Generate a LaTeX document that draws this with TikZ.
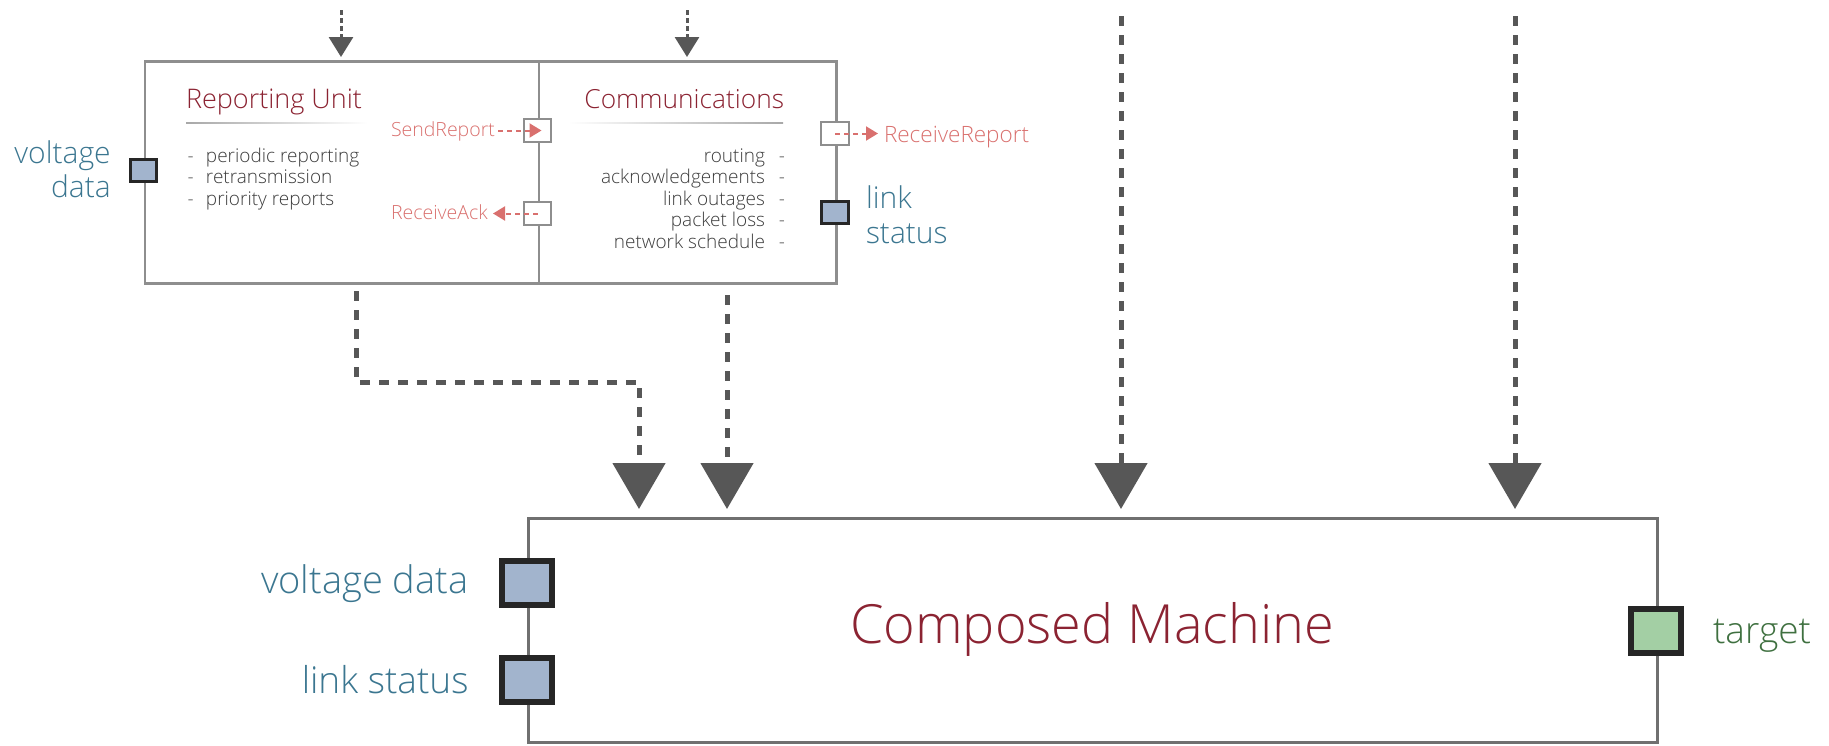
\documentclass[tikz,border=0pt]{standalone}
\usepackage{fontspec}
\setmainfont{Open Sans Light}
\usetikzlibrary{arrows.meta}
\definecolor{titlered}{HTML}{8B2332}
\definecolor{tealtxt}{HTML}{3B7690}
\definecolor{salmon}{HTML}{D9706E}
\definecolor{greentxt}{HTML}{3F7040}
\definecolor{itemgray}{HTML}{3C3C3C}
\definecolor{boxgray}{HTML}{8E8E8E}
\definecolor{cmgray}{HTML}{707070}
\definecolor{arrgray}{HTML}{575757}
\definecolor{portborder}{HTML}{262626}
\definecolor{portblue}{HTML}{A2B4CD}
\definecolor{portgreen}{HTML}{A3CFA4}
\definecolor{ulgray}{HTML}{A8A8A8}
\begin{document}
\begin{tikzpicture}[x=1pt,y=-1pt,
  ubox/.style={draw=boxgray, line width=2.5pt, anchor=north west, inner sep=0pt},
  cmbox/.style={draw=cmgray, line width=3pt, anchor=north west, inner sep=0pt},
  txt/.style={inner sep=0pt, outer sep=0pt},
  titletxt/.style={txt, text=titlered, font=\fontsize{27}{32}\selectfont},
  itemtxt/.style={txt, text=itemgray, font=\fontsize{19}{22}\selectfont},
  redtxt/.style={txt, text=salmon, font=\fontsize{19.5}{23}\selectfont},
  portlbl/.style={txt, text=tealtxt, font=\fontsize{30}{34}\selectfont},
  bigportlbl/.style={txt, text=tealtxt, font=\fontsize{38}{44}\selectfont},
  sport/.style={draw=portborder, fill=portblue, line width=3pt, minimum width=26.5pt, minimum height=22pt, inner sep=0pt},
  wport/.style={draw=boxgray, fill=white, line width=2pt, minimum width=27.5pt, minimum height=23pt, inner sep=0pt},
  bport/.style={draw=portborder, fill=portblue, line width=6pt, minimum width=50pt, minimum height=44pt, inner sep=0pt},
  gport/.style={bport, fill=portgreen},
  redarr/.style={draw=salmon, line width=2pt, dash pattern=on 5pt off 4pt, -{Triangle[width=14pt,length=12pt]}},
  smallarr/.style={draw=arrgray, line width=3pt, dash pattern=on 5pt off 3pt, -{Triangle[width=24pt,length=20pt]}},
  bigarr/.style={draw=arrgray, line width=5pt, dash pattern=on 10pt off 9pt, -{Triangle[width=52pt,length=46pt]}}
]
\useasboundingbox (0,0) rectangle (1829,745);

% top boxes
\node[ubox, minimum width=394pt, minimum height=222pt] (ru) at (143.6,60) {};
\node[ubox, minimum width=297.5pt, minimum height=222pt] (cu) at (537.5,60) {};

% titles and underlines
\node[titletxt, anchor=base west] (rut) at (186,108) {Reporting Unit};
\node[titletxt, anchor=base east, font=\fontsize{26.3}{31}\selectfont] (cut) at (784,108) {Communications};
\shade[left color=ulgray, right color=white] (186,122.3) rectangle (368,123.8);
\shade[left color=white, right color=ulgray] (568,122.3) rectangle (783,123.8);

% reporting unit list
\node[itemtxt, anchor=base west] (r1) at (187.5,162) {\makebox[18.5pt][l]{-}periodic reporting};
\node[itemtxt, anchor=base west] (r2) at (187.5,183.5) {\makebox[18.5pt][l]{-}retransmission};
\node[itemtxt, anchor=base west] (r3) at (187.5,205) {\makebox[18.5pt][l]{-}priority reports};

% communications list
\node[itemtxt, anchor=base east] (c1) at (785,162) {routing\makebox[20pt][r]{-}};
\node[itemtxt, anchor=base east] (c2) at (785,183.5) {acknowledgements\makebox[20pt][r]{-}};
\node[itemtxt, anchor=base east] (c3) at (785,205) {link outages\makebox[20pt][r]{-}};
\node[itemtxt, anchor=base east] (c4) at (785,226.5) {packet loss\makebox[20pt][r]{-}};
\node[itemtxt, anchor=base east] (c5) at (785,248) {network schedule\makebox[20pt][r]{-}};

% small ports
\node[sport] (vdp) at (143.6,170.5) {};
\node[wport] (sp) at (537.5,130.5) {};
\node[wport] (rap) at (537.5,213.5) {};
\node[wport] (rrp) at (835,133.5) {};
\node[sport] (lsp) at (835,212.5) {};

% red labels and arrows
\node[redtxt, anchor=base west] (sl) at (391,136) {SendReport};
\node[redtxt, anchor=base west] (ral) at (391,219) {ReceiveAck};
\node[redtxt, anchor=base west, font=\fontsize{22.5}{26}\selectfont] (rrl) at (884,142) {ReceiveReport};
\draw[redarr] ([xshift=-39.5pt]sp.center) -- ([xshift=4pt]sp.center);
\draw[redarr] (rap.center) -- ([xshift=-44.5pt]rap.center);
\draw[redarr] (rrp.center) -- ([xshift=43pt]rrp.center);

% teal port labels (top)
\node[portlbl, anchor=base east] (vd1) at (110.7,163) {voltage};
\node[portlbl, anchor=base east] (vd2) at (110.7,197) {data};
\node[portlbl, anchor=base west] (ls1) at (866,208) {link};
\node[portlbl, anchor=base west] (ls2) at (866,243) {status};

% small incoming arrows
\coordinate (t1s) at (341,10);
\coordinate (t2s) at (687,10);
\draw[smallarr] (t1s) -- ([yshift=3pt]t1s |- ru.north);
\draw[smallarr] (t2s) -- ([yshift=3pt]t2s |- cu.north);

% composed machine
\node[cmbox, minimum width=1129pt, minimum height=224pt] (cm) at (527,517) {};
\node[txt, anchor=base, text=titlered, font=\fontsize{54}{60}\selectfont] (cmt) at (1092,643) {Composed Machine};
\node[bport] (bvd) at (527,583) {};
\node[bport] (bls) at (527,680) {};
\node[gport] (tg) at (1656,631) {};
\node[bigportlbl, anchor=base east] (bvdl) at (468.5,593) {voltage data};
\node[bigportlbl, anchor=base east, font=\fontsize{37}{42}\selectfont] (blsl) at (468.5,693) {link status};
\node[txt, anchor=base west, text=greentxt, font=\fontsize{37}{42}\selectfont] (tgl) at (1713,643) {target};

% big arrows
\coordinate (a1s) at (356,291);
\coordinate (a1m) at (639,382);
\coordinate (a1t) at (639,509);
\coordinate (a2s) at (727,295);
\coordinate (a2t) at (727,509);
\coordinate (a3s) at (1121,16);
\coordinate (a3t) at (1121,509);
\coordinate (a4s) at (1515,16);
\coordinate (a4t) at (1515,509);
\draw[bigarr] (a1s) |- (a1m) -- (a1t);
\draw[bigarr] (a2s) -- (a2t);
\draw[bigarr] (a3s) -- (a3t);
\draw[bigarr] (a4s) -- (a4t);
\end{tikzpicture}
\end{document}
